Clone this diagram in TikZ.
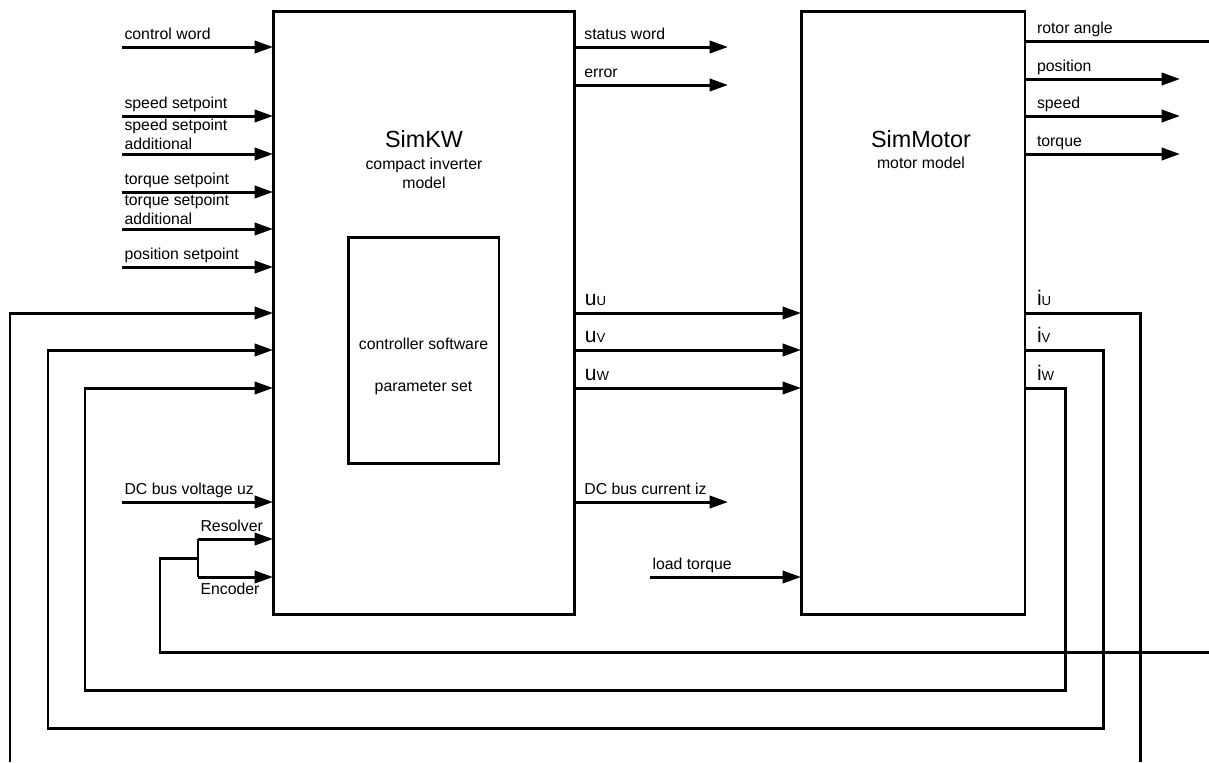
\documentclass[tikz,border=0pt]{standalone}
\usepackage{fontspec}
\setmainfont{Liberation Sans}
\usetikzlibrary{arrows.meta}
\newcommand{\phaselbl}[2]{{\fontsize{12}{12}\selectfont #1}{\fontsize{7.5}{9}\selectfont #2}}

\begin{document}
\begin{tikzpicture}[
    x=0.02cm, y=-0.02cm,
    block/.style={draw, line width=1.7pt, inner sep=0pt, outer sep=0pt},
    arr/.style={-{Triangle[length=10.5pt,width=7pt]}, line width=1.7pt},
    wire/.style={line width=1.7pt},
    lblbase/.style={inner sep=0pt, text depth=0pt, align=left, font=\fontsize{9}{11}\selectfont},
    lbl/.style={lblbase, anchor=south west, xshift=#1, yshift=3.6pt},
    lbl/.default=0.6pt,
    lbltwo/.style={lblbase, anchor=south west, xshift=0.6pt, yshift=1.5pt},
    lblbelow/.style={lblbase, anchor=north west, xshift=0.6pt, yshift=-2.6pt},
    title/.style={font=\fontsize{13.3}{16}\selectfont, anchor=base, inner sep=0pt},
    sub/.style={font=\fontsize{9}{11}\selectfont, anchor=south, text depth=0pt, align=center, inner sep=0pt}
]
\useasboundingbox (0,0) rectangle (1209,762);

\node[block, minimum width=6.04cm, minimum height=12.08cm] (kw) at (424,313) {};
\node[block, minimum width=4.48cm, minimum height=12.08cm] (mot) at (913,313) {};
\node[block, minimum width=3.02cm, minimum height=4.54cm] (ctrl) at (423.5,350.5) {};

\node[title] (kwname) at (424,147) {SimKW};
\node[sub] (kwsub) at (424,189) {compact inverter\\model};
\node[title] (motname) at (921,147) {SimMotor};
\node[sub] (motsub) at (921,169) {motor model};
\node[sub] (ctrltxt) at (423.5,392) {controller software\\[13pt]parameter set};

\coordinate (cw) at (122,47);
\coordinate (ss) at (122,116);
\coordinate (ssa) at (122,154);
\coordinate (ts) at (122,192);
\coordinate (tsa) at (122,229);
\coordinate (ps) at (122,267);
\coordinate (uz) at (122,502);
\coordinate (stw) at (728,47);
\coordinate (err) at (728,85);
\coordinate (iz) at (728,502);
\coordinate (lt) at (650,577);
\coordinate (ra) at (1209,41);
\coordinate (pos) at (1180,79);
\coordinate (spd) at (1180,116);
\coordinate (trq) at (1180,154);
\coordinate (rowU) at (0,313);
\coordinate (rowV) at (0,350);
\coordinate (rowW) at (0,388);

\draw[arr] (cw) -- (cw -| kw.west) node[lbl, pos=0] {control word};
\draw[arr] (ss) -- (ss -| kw.west) node[lbl, pos=0] {speed setpoint};
\draw[arr] (ssa) -- (ssa -| kw.west) node[lbltwo, pos=0] {speed setpoint\\additional};
\draw[arr] (ts) -- (ts -| kw.west) node[lbl, pos=0] {torque setpoint};
\draw[arr] (tsa) -- (tsa -| kw.west) node[lbltwo, pos=0] {torque setpoint\\additional};
\draw[arr] (ps) -- (ps -| kw.west) node[lbl, pos=0] {position setpoint};
\draw[arr] (uz) -- (uz -| kw.west) node[lbl, pos=0] {DC bus voltage uz};

\draw[arr] (stw -| kw.east) -- (stw) node[lbl=4.5pt, pos=0] {status word};
\draw[arr] (err -| kw.east) -- (err) node[lbl=4.5pt, pos=0] {error};
\draw[arr] (iz -| kw.east) -- (iz) node[lbl=4.5pt, pos=0] {DC bus current iz};
\draw[arr] (lt) -- (lt -| mot.west) node[lbl, pos=0] {load torque};

\draw[arr] (rowU -| kw.east) -- (rowU -| mot.west) node[lbl=4.8pt, pos=0] {\phaselbl{u}{U}};
\draw[arr] (rowV -| kw.east) -- (rowV -| mot.west) node[lbl=4.8pt, pos=0] {\phaselbl{u}{V}};
\draw[arr] (rowW -| kw.east) -- (rowW -| mot.west) node[lbl=4.8pt, pos=0] {\phaselbl{u}{W}};

\draw[wire] (ra -| mot.east) -- (ra) node[lbl=6pt, pos=0] {rotor angle};
\draw[arr] (pos -| mot.east) -- (pos) node[lbl=6pt, pos=0] {position};
\draw[arr] (spd -| mot.east) -- (spd) node[lbl=6pt, pos=0] {speed};
\draw[arr] (trq -| mot.east) -- (trq) node[lbl=6pt, pos=0] {torque};

\coordinate (iUr) at (1140,762);
\coordinate (iUl) at (10,762);
\coordinate (iVr) at (1103,728);
\coordinate (iVl) at (48,728);
\coordinate (iWr) at (1065,690);
\coordinate (iWl) at (85,690);
\coordinate (rar) at (1209,652);
\coordinate (ral) at (160,652);
\coordinate (jn) at (198,558);
\coordinate (resrow) at (198,539);
\coordinate (encrow) at (198,577);

\draw[wire] (rowU -| mot.east) -| (iUr) node[lbl=6pt, pos=0] {\phaselbl{i}{U}};
\draw[arr] (iUl) |- (rowU -| kw.west);
\draw[arr] (rowV -| mot.east) -| (iVr) node[lbl=6pt, pos=0] {\phaselbl{i}{V}} -- (iVl) |- (rowV -| kw.west);
\draw[arr] (rowW -| mot.east) -| (iWr) node[lbl=6pt, pos=0] {\phaselbl{i}{W}} -- (iWl) |- (rowW -| kw.west);

\draw[wire] (rar) -- (ral) |- (jn);
\draw[wire] (resrow) -- (encrow);
\draw[arr] (resrow) -- (resrow -| kw.west) node[lbl, pos=0] {Resolver};
\draw[arr] (encrow) -- (encrow -| kw.west) node[lblbelow, pos=0] {Encoder};
\end{tikzpicture}
\end{document}
